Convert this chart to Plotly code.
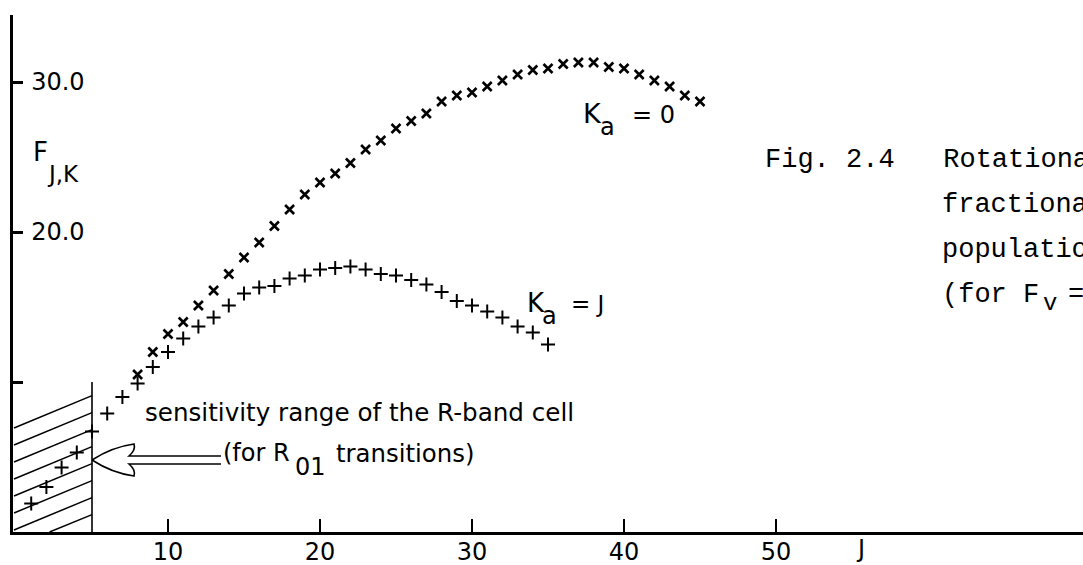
import plotly.graph_objects as go

# ---- data ----
J_K0 = list(range(8, 46))
F_K0 = [10.5, 12.0, 13.2, 14.0, 15.1, 16.1, 17.2, 18.3, 19.3, 20.4, 21.5, 22.5,
        23.3, 23.9, 24.6, 25.5, 26.1, 26.9, 27.4, 27.9, 28.7, 29.1, 29.3, 29.7,
        30.1, 30.5, 30.8, 30.9, 31.2, 31.3, 31.3, 31.0, 30.9, 30.5, 30.1, 29.7,
        29.1, 28.7]

J_KJ = list(range(1, 36))
F_KJ = [1.9, 3.0, 4.3, 5.3, 6.7, 7.9, 9.0, 9.9, 11.0, 12.0, 12.9, 13.7, 14.3,
        15.1, 15.9, 16.3, 16.4, 16.9, 17.1, 17.5, 17.6, 17.7, 17.5, 17.2, 17.1,
        16.8, 16.5, 16.0, 15.4, 15.1, 14.7, 14.3, 13.7, 13.3, 12.5]

x_tickvals = [10, 20, 30, 40, 50]
x_ticktext = ["10", "20", "30", "40", "50"]
y_tickvals = [20, 30]
y_ticktext = ["20.0", "30.0"]
y_unlabelled_ticks = [10]

# ---- layout geometry ----
W, H = 1083, 565
ML, MR, MT, MB = 13, 0, 15, 33
PW, PH = W - ML - MR, H - MT - MB
XR = [-3 / 15.2, (W - 16) / 15.2]
YR = [0, PH / 15.0]


def dx(px):
    return XR[0] + (px - ML) / PW * (XR[1] - XR[0])


def dy(py):
    return YR[0] + (H - MB - py) / PH * (YR[1] - YR[0])


def paper_x(px):
    return (px - ML) / PW


def paper_y(py):
    return (H - MB - py) / PH


SANS = "DejaVu Sans"
MONO = "Liberation Mono"

fig = go.Figure()
fig.add_trace(go.Scatter(x=J_K0, y=F_K0, mode="markers", name="Ka = 0",
                         marker=dict(symbol="x-thin", size=9, color="black",
                                     line=dict(width=2.6, color="black"))))
fig.add_trace(go.Scatter(x=J_KJ, y=F_KJ, mode="markers", name="Ka = J",
                         marker=dict(symbol="cross-thin", size=10, color="black",
                                     line=dict(width=2.0, color="black"))))

shapes = []
# sensitivity range boundary
shapes.append(dict(type="line", xref="x", yref="y", x0=5, x1=5, y0=0, y1=10,
                   line=dict(color="black", width=1.6)))
# hatching
segs = []
slope = 0.41
xr_px = ML + (5 - XR[0]) / (XR[1] - XR[0]) * PW
for k in range(8):
    py0 = 428 + 17 * k
    if py0 <= H - MB:
        sx, sy = ML + 1, py0
    else:
        sx, sy = ML + (py0 - (H - MB)) / slope, H - MB
    ex = xr_px
    ey = py0 - slope * (ex - ML)
    segs.append(f"M {dx(sx)},{dy(sy)} L {dx(ex)},{dy(ey)}")
shapes.append(dict(type="path", xref="x", yref="y", path=" ".join(segs),
                   line=dict(color="black", width=1.5)))
# hollow arrow
tipx = xr_px
arrow_pts = [
    f"M {dx(tipx)},{dy(460)} Q {dx(112)},{dy(447)} {dx(134)},{dy(444)} "
    f"Q {dx(136)},{dy(450)} {dx(129)},{dy(456)} L {dx(221)},{dy(456)}",
    f"M {dx(tipx)},{dy(460)} Q {dx(112)},{dy(473)} {dx(134)},{dy(476)} "
    f"Q {dx(136)},{dy(470)} {dx(129)},{dy(464)} L {dx(221)},{dy(464)}",
]
shapes.append(dict(type="path", xref="x", yref="y", path=" ".join(arrow_pts),
                   line=dict(color="black", width=1.6)))

ann = []


def text(t, px, py, size, font=SANS, anchor="left", pad=1):
    ann.append(dict(text=t, x=paper_x(px), y=paper_y(py), xref="paper",
                    yref="paper", xanchor=anchor, yanchor="middle",
                    showarrow=False, borderpad=pad,
                    font=dict(family=font, size=size, color="black")))


text("F", 31, 152, 26)
text("J,K", 45, 174, 23)
text("K", 581, 113, 27)
text("a", 598, 127, 24)
text("= 0", 630, 115, 24)
text("K", 525, 303, 26)
text("a", 540, 316, 24)
text("= J", 569, 304, 23)
text("sensitivity range of the R-band cell", 143, 412, 24.6)
text("(for R", 221, 453, 24)
text("01", 293, 467, 24)
text("transitions)", 334, 453, 24.4)
text("J", 860, 549, 24, anchor="center", pad=0)
text("Fig. 2.4   Rotationa", 763, 160, 27, font=MONO)
text("fractiona", 940, 205, 27, font=MONO)
text("populatio", 940, 250, 27, font=MONO)
text("(for F", 940, 295, 27, font=MONO)
text("v", 1041, 304, 24, font=MONO)
text("=", 1066, 295, 27, font=MONO)

fig.update_layout(
    width=W, height=H,
    margin=dict(l=ML, r=MR, t=MT, b=MB, pad=0, autoexpand=False),
    paper_bgcolor="white", plot_bgcolor="white",
    showlegend=False,
    shapes=shapes, annotations=ann,
    xaxis=dict(range=XR, showgrid=False, zeroline=False, showline=True,
               automargin=False,
               linecolor="black", linewidth=3, ticks="inside", ticklen=13,
               tickwidth=2, tickcolor="black", tickvals=x_tickvals,
               ticktext=x_ticktext, ticklabelstandoff=-4,
               tickfont=dict(family=SANS, size=24, color="black")),
    yaxis=dict(range=YR, showgrid=False, zeroline=False, showline=True,
               automargin=False,
               linecolor="black", linewidth=3, ticks="inside", ticklen=10,
               tickwidth=3, tickcolor="black", tickvals=y_tickvals,
               ticktext=y_ticktext, ticklabelposition="inside",
               ticklabelstandoff=10,
               minor=dict(tickvals=y_unlabelled_ticks, ticks="inside",
                          ticklen=10, tickwidth=3, tickcolor="black",
                          showgrid=False),
               tickfont=dict(family=SANS, size=24, color="black")),
)

fig.write_html("out.html",
               config={"displayModeBar": False, "staticPlot": True},
               post_script="document.body.style.margin='0';"
                           "document.body.style.overflow='hidden';")
